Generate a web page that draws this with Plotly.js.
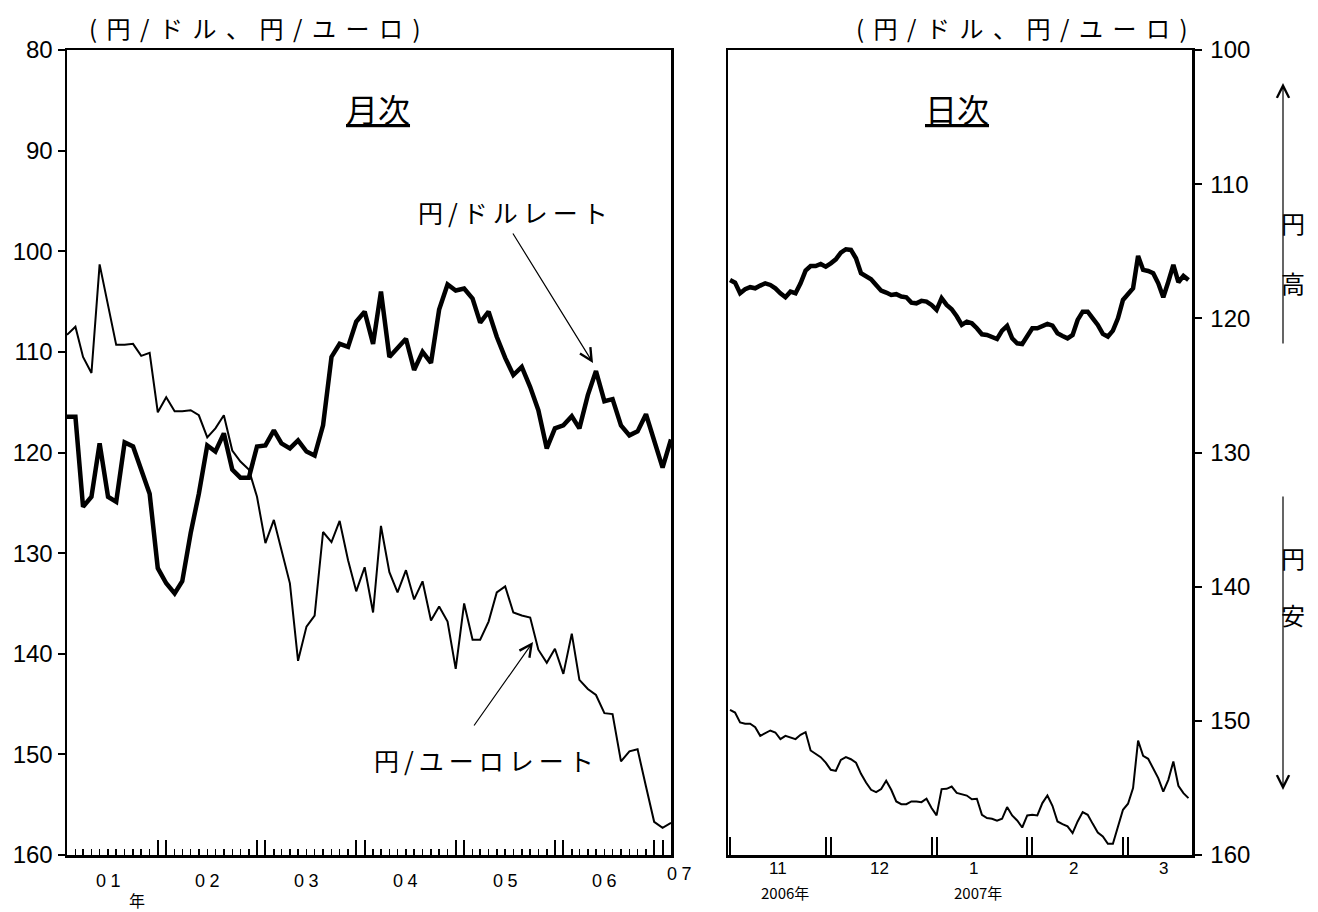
<!DOCTYPE html>
<html>
<head>
<meta charset="utf-8">
<script src="https://cdn.plot.ly/plotly-3.0.1.min.js"></script>
<style>html,body{margin:0;padding:0;background:#fff;}#chart{width:1318px;height:912px;}</style>
</head>
<body>
<div id="chart"></div>
<script>
// ---- Monthly data (end of month), Jan 2001 - Feb 2007 ----
const monthlyStart = [2001, 1];
const usdMonthly = [116.45,116.45,125.4,124.4,119.1,124.4,124.9,119.0,119.4,121.7,124.1,131.5,
  133.0,134.0,132.8,128.0,124.1,119.3,119.9,118.1,121.7,122.5,122.5,119.4,
  119.3,117.8,119.1,119.6,118.8,119.9,120.3,117.3,110.5,109.2,109.5,107.0,
  106.0,109.2,104.0,110.5,109.6,108.7,111.8,110.0,111.1,105.8,103.3,103.9,
  103.7,104.7,107.1,106.0,108.5,110.6,112.3,111.5,113.5,115.8,119.6,117.6,
  117.3,116.4,117.6,114.3,111.9,114.9,114.7,117.3,118.3,117.9,116.2,118.9,
  121.5,118.7];
const eurMonthly = [108.3,107.5,110.5,112.1,101.3,105.3,109.3,109.3,109.2,110.4,110.1,116.0,
  114.5,115.9,115.9,115.8,116.3,118.5,117.6,116.3,119.8,120.9,121.7,124.4,
  129.0,126.7,129.7,133.0,140.7,137.3,136.2,127.9,128.9,126.8,130.7,133.8,
  131.4,135.9,127.3,131.9,133.9,131.7,134.6,132.8,136.7,135.3,136.8,141.5,
  135.0,138.6,138.6,136.8,133.9,133.3,135.9,136.2,136.4,139.6,140.9,139.5,
  142.0,138.0,142.6,143.5,144.1,145.9,146.0,150.7,149.7,149.5,153.2,156.7,
  157.3,156.8];
const yearLabels = ['01','02','03','04','05','06'];
const yearLabelYears = [2001,2002,2003,2004,2005,2006];

// ---- Daily data (business days), Nov 2006 - Mar 2007 ----
const dailyMonthLabels = ['11','12','1','2','3'];
const dailyMonthCounts = [20,21,19,19,13];
const usdDaily = [117.14,117.34,118.13,117.83,117.68,117.76,117.56,117.39,117.51,117.76,
  118.13,118.43,118.01,118.13,117.39,116.44,116.10,116.10,115.95,116.15,
  115.90,115.60,115.10,114.85,114.90,115.52,116.64,116.84,117.09,117.51,
  117.94,118.08,118.26,118.20,118.38,118.43,118.83,118.88,118.70,118.75,
  119.00,119.37,118.50,119.00,119.32,119.85,120.49,120.25,120.37,120.74,
  121.19,121.24,121.41,121.54,120.92,120.57,121.49,121.86,121.91,121.36,
  120.74,120.74,120.57,120.42,120.54,121.11,121.31,121.49,121.24,120.12,
  119.50,119.50,120.00,120.49,121.16,121.36,120.92,120.00,118.63,118.18,
  117.76,115.35,116.39,116.47,116.64,117.39,118.43,117.27,116.02,117.31,
  116.84,117.14];
const eurDaily = [149.18,149.38,150.12,150.22,150.22,150.47,151.12,150.92,150.72,150.87,
  151.36,151.12,151.22,151.36,151.04,150.84,152.21,152.48,152.71,153.11,
  153.65,153.73,152.91,152.71,152.86,153.11,153.95,154.60,155.14,155.32,
  155.09,154.47,155.14,156.01,156.21,156.21,156.01,156.01,156.06,155.81,
  156.50,157.05,155.09,155.07,154.90,155.37,155.46,155.57,155.84,155.81,
  157.00,157.25,157.30,157.45,157.30,156.43,157.05,157.43,157.95,157.05,
  157.00,157.05,156.13,155.57,156.33,157.50,157.70,157.87,158.37,157.50,
  156.80,157.00,157.68,158.32,158.62,159.17,159.17,157.99,156.63,156.18,
  155.01,151.47,152.61,152.83,153.53,154.27,155.27,154.40,153.03,154.84,
  155.39,155.76];

// ---- build x values ----
function pad(n){return (n<10?'0':'')+n;}
const months = usdMonthly.map((_,i)=>{
  const m = monthlyStart[1]-1+i;
  return (monthlyStart[0]+Math.floor(m/12))+'-'+pad(m%12+1)+'-01';
});
const dayIdx = usdDaily.map((_,i)=>i);

// year-boundary ticks (Dec & Jan)
const majorTicks = [];
for (let y=2002; y<=2007; y++){ majorTicks.push((y-1)+'-12-01', y+'-01-01'); }
// month-boundary ticks for daily panel (last day of month & first day of next)
const dailyTicks = [0];
let acc = 0;
for (let k=0;k<dailyMonthCounts.length-1;k++){ acc += dailyMonthCounts[k]; dailyTicks.push(acc-1, acc); }

const W=1318, H=912;
const px = x => x/W, py = y => 1-y/H;
const JP = '"Noto Sans CJK JP", "Noto Sans", sans-serif';
const NUM = '"Liberation Sans", Arial, sans-serif';
const GAP = '\u2004\u200a', THIN = '\u2009', DG = '\u2005';
const spaced = (s, g) => s.split('').join(g);

const traces = [
  {x: months, y: usdMonthly, xaxis:'x', yaxis:'y', mode:'lines', line:{color:'#000', width:4.5}, hoverinfo:'skip'},
  {x: months, y: eurMonthly, xaxis:'x', yaxis:'y', mode:'lines', line:{color:'#000', width:2}, hoverinfo:'skip'},
  {x: dayIdx, y: usdDaily, xaxis:'x2', yaxis:'y2', mode:'lines', line:{color:'#000', width:4.5}, hoverinfo:'skip'},
  {x: dayIdx, y: eurDaily, xaxis:'x2', yaxis:'y2', mode:'lines', line:{color:'#000', width:2}, hoverinfo:'skip'}
];

const ann = [];
function txt(text, x, y, size, font, xref){
  ann.push({text, x, y, xref: xref||'paper', yref:'paper', showarrow:false, xanchor:'center', yanchor:'middle',
    font:{family: font||JP, size: size, color:'#000'}});
}
const hdr = spaced('(円/ドル、円/ユーロ)', GAP);
txt(hdr, px(255), py(28), 24);
txt(hdr, px(1022), py(28), 24);
txt('<u>月次</u>', px(378), py(108), 32);
txt('<u>日次</u>', px(957), py(108), 32);
txt(spaced('円/ドルレート', THIN), px(513), py(212), 25);
txt(spaced('円/ユーロレート', THIN), px(484), py(760), 25);
txt('円', px(1293), py(222), 24);
txt('高', px(1293), py(282), 24);
txt('円', px(1293), py(557), 24);
txt('安', px(1293), py(614), 24);
yearLabels.forEach((t,i)=> txt(spaced(t, DG), yearLabelYears[i]+'-06-01', py(881), 18, NUM, 'x'));
txt(spaced('07', DG), px(679), py(874), 18, NUM);
txt('年', px(137), py(900), 16);
const dailyLabelPx = [778, 879, 973, 1073, 1163];
dailyMonthLabels.forEach((t,i)=> txt(t, px(dailyLabelPx[i]), py(868), 17, NUM));
txt('2006年', px(785), py(892), 15);
txt('2007年', px(978), py(892), 15);

function arrow(hx, hy, tx, ty){
  ann.push({text:'', x:px(hx), y:py(hy), xref:'paper', yref:'paper', showarrow:true,
    ax: tx-hx, ay: ty-hy, axref:'pixel', ayref:'pixel', arrowhead:5, arrowsize:2, arrowwidth:1.2, arrowcolor:'#000', standoff:0, startstandoff:0});
}
arrow(593, 363, 512, 232);
arrow(533, 642, 473, 727);
arrow(1283, 83, 1283, 345);
arrow(1283, 790, 1283, 495);

const axLine = {showline:true, linecolor:'#000', linewidth:2.5, mirror:true, showgrid:false, zeroline:false};
const layout = {
  width:W, height:H, margin:{l:0,r:0,t:0,b:0}, paper_bgcolor:'#fff', plot_bgcolor:'#fff', showlegend:false,
  xaxis: Object.assign({}, axLine, {domain:[px(67), px(671)], anchor:'y', type:'date',
    range:['2001-01-01','2007-02-01'], tickmode:'array', tickvals: majorTicks, ticks:'inside', ticklen:15,
    tickwidth:2, tickcolor:'#000', showticklabels:false,
    minor:{ticks:'inside', ticklen:6, tickwidth:1.5, tickcolor:'#000', dtick:'M1', tick0:'2001-01-01', showgrid:false}}),
  yaxis: Object.assign({}, axLine, {domain:[1-855/H, 1-50/H], anchor:'x', range:[160,80],
    tickmode:'array', tickvals:[80,90,100,110,120,130,140,150,160], ticks:'outside', ticklen:7, tickwidth:2, tickcolor:'#000',
    tickfont:{family:NUM, size:24, color:'#000'}}),
  xaxis2: Object.assign({}, axLine, {domain:[px(728), px(1192)], anchor:'y2', range:[-0.4, 91.7],
    tickmode:'array', tickvals: dailyTicks, ticks:'inside', ticklen:18, tickwidth:2, tickcolor:'#000', showticklabels:false}),
  yaxis2: Object.assign({}, axLine, {domain:[1-855/H, 1-50/H], anchor:'x2', side:'right', range:[160,100],
    tickmode:'array', tickvals:[100,110,120,130,140,150,160], ticks:'outside', ticklen:7, tickwidth:2, tickcolor:'#000',
    ticklabelstandoff:4, tickfont:{family:NUM, size:24, color:'#000'}}),
  annotations: ann
};
Plotly.newPlot('chart', traces, layout, {staticPlot:true, displayModeBar:false});
</script>
</body>
</html>
